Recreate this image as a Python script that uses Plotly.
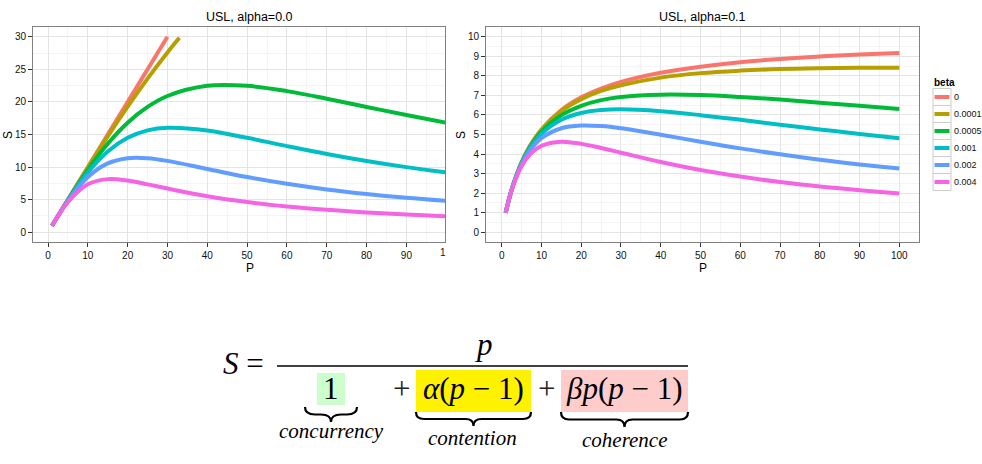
import plotly.graph_objects as go

# ---------------- data ----------------
BETA_LABELS = ["0", "0.0001", "0.0005", "0.001", "0.002", "0.004"]
COLORS = ["#F8766D", "#B79F00", "#00BA38", "#00BFC4", "#619CFF", "#F564E3"]

# alpha = 0.0 panel (values above 30 are cut off in the original)
P_L_B0 = [1, 30]
S_L_B0 = [1, 30]
P_L_B1 = [1, 5, 10, 15, 20, 25, 30, 33]
S_L_B1 = [1, 4.99, 9.91, 14.69, 19.27, 23.58, 27.60, 29.85]
P_L = [1, 5, 10, 15, 20, 25, 30, 40, 50, 60, 70, 80, 90, 100]
S_L_B5 = [1, 4.95, 9.57, 13.57, 16.81, 19.23, 20.91, 22.47, 22.47, 21.66, 20.50, 19.23, 17.98, 16.81]
S_L_B10 = [1, 4.90, 9.17, 12.40, 14.49, 15.63, 16.04, 15.63, 14.49, 13.22, 12.01, 10.93, 9.99, 9.17]
S_L_B20 = [1, 4.81, 8.47, 10.56, 11.36, 11.36, 10.95, 9.71, 8.47, 7.43, 6.57, 5.87, 5.29, 4.81]
S_L_B40 = [1, 4.63, 7.35, 8.15, 7.94, 7.35, 6.70, 5.52, 4.63, 3.96, 3.44, 3.04, 2.72, 2.46]

# alpha = 0.1 panel
P_R = [1, 2, 3, 5, 7, 10, 15, 20, 25, 30, 40, 50, 60, 70, 80, 90, 100]
S_R_B0 = [1, 1.82, 2.50, 3.57, 4.38, 5.26, 6.25, 6.90, 7.35, 7.69, 8.16, 8.47, 8.70, 8.86, 8.99, 9.09, 9.17]
S_R_B1 = [1, 1.82, 2.50, 3.57, 4.36, 5.24, 6.20, 6.81, 7.23, 7.52, 7.91, 8.14, 8.27, 8.35, 8.39, 8.41, 8.41]
S_R_B5 = [1, 1.82, 2.49, 3.55, 4.32, 5.14, 5.99, 6.47, 6.76, 6.92, 7.04, 7.02, 6.92, 6.79, 6.63, 6.47, 6.31]
S_R_B10 = [1, 1.81, 2.49, 3.52, 4.26, 5.03, 5.75, 6.10, 6.25, 6.29, 6.19, 5.99, 5.75, 5.50, 5.26, 5.03, 4.81]
S_R_B20 = [1, 1.81, 2.48, 3.47, 4.16, 4.81, 5.32, 5.46, 5.43, 5.32, 4.99, 4.63, 4.29, 3.99, 3.71, 3.47, 3.26]
S_R_B40 = [1, 1.81, 2.45, 3.38, 3.96, 4.42, 4.63, 4.52, 4.31, 4.07, 3.59, 3.18, 2.85, 2.57, 2.34, 2.15, 1.98]

LEFT_SERIES = [(P_L_B0, S_L_B0), (P_L_B1, S_L_B1), (P_L, S_L_B5),
               (P_L, S_L_B10), (P_L, S_L_B20), (P_L, S_L_B40)]
RIGHT_SERIES = [(P_R, S_R_B0), (P_R, S_R_B1), (P_R, S_R_B5),
                (P_R, S_R_B10), (P_R, S_R_B20), (P_R, S_R_B40)]

TITLES = ["USL, alpha=0.0", "USL, alpha=0.1"]
X_TICKS = [0, 10, 20, 30, 40, 50, 60, 70, 80, 90, 100]
Y_TICKS_L = [0, 5, 10, 15, 20, 25, 30]
Y_TICKS_R = list(range(0, 11))

# ---------------- layout helpers ----------------
W, H = 982, 464


def X(px):
    return px / W


def Y(py):
    return 1 - py / H


SANS = "Liberation Sans"
SERIF = "Liberation Serif"

fig = go.Figure()

for (px_, s_), col, lab in zip(LEFT_SERIES, COLORS, BETA_LABELS):
    fig.add_trace(go.Scatter(x=px_, y=s_, mode="lines", name=lab,
                             line=dict(color=col, width=4, shape="spline", smoothing=1),
                             xaxis="x", yaxis="y", showlegend=False))
for (px_, s_), col, lab in zip(RIGHT_SERIES, COLORS, BETA_LABELS):
    fig.add_trace(go.Scatter(x=px_, y=s_, mode="lines", name=lab,
                             line=dict(color=col, width=4, shape="spline", smoothing=1),
                             xaxis="x2", yaxis="y2", showlegend=False))

GRID = "#e4e4e4"
MINOR = "#f4f4f4"
BORDER = "#808080"
TICKC = "#333333"
TXT = "#111111"


def xaxis(domain, rng):
    return dict(domain=domain, range=rng, tickvals=X_TICKS, ticks="outside", ticklen=4,
                tickcolor=TICKC, tickwidth=1, tickfont=dict(size=10, color=TXT, family=SANS),
                showline=True, mirror=True, linecolor=BORDER, linewidth=1,
                showgrid=True, gridcolor=GRID, gridwidth=1.2, zeroline=False,
                minor=dict(dtick=5, tick0=0, showgrid=True, gridcolor=MINOR, gridwidth=1, ticks=""))


def yaxis(domain, rng, tv, minor_dt):
    return dict(domain=domain, range=rng, tickvals=tv, ticks="outside", ticklen=4,
                tickcolor=TICKC, tickwidth=1, tickfont=dict(size=10, color=TXT, family=SANS),
                showline=True, mirror=True, linecolor=BORDER, linewidth=1,
                showgrid=True, gridcolor=GRID, gridwidth=1.2, zeroline=False,
                minor=dict(dtick=minor_dt, tick0=0, showgrid=True, gridcolor=MINOR, gridwidth=1, ticks=""))


ydom = [Y(242), Y(27)]
fig.update_layout(
    width=W, height=H, margin=dict(l=0, r=0, t=0, b=0),
    paper_bgcolor="white", plot_bgcolor="white", showlegend=False,
    font=dict(family=SANS, color=TXT),
    xaxis=xaxis([X(33), X(445)], [-3.77, 99.7]),
    yaxis=yaxis(ydom, [-1.5, 31.5], Y_TICKS_L, 2.5),
    xaxis2=xaxis([X(486), X(919)], [-3.95, 104.95]),
    yaxis2=yaxis(ydom, [-0.5, 10.5], Y_TICKS_R, 0.5),
)
fig.update_layout(yaxis2=dict(anchor="x2"), xaxis2=dict(anchor="y2"))

ann = []
shapes = []


def text(x, y, s, size, family=SANS, xanchor="center", yanchor="middle", angle=0, color="black"):
    ann.append(dict(x=X(x), y=Y(y), xref="paper", yref="paper", text=s, showarrow=False,
                    xanchor=xanchor, yanchor=yanchor, textangle=angle,
                    font=dict(size=size, family=family, color=color)))


# titles and axis labels
text(249.5, 17, TITLES[0], 12.5)
text(702.5, 17, TITLES[1], 12.5)
text(249.5, 268, "P", 12)
text(703, 268, "P", 12)
text(8, 135, "S", 12, angle=-90)
text(461, 135, "S", 12, angle=-90)
# partially cut "100" tick label on the left panel
text(437.5, 252.5, "1", 10, xanchor="left", color=TXT)

# custom legend (ggplot style keys)
text(932, 82, "<b>beta</b>", 10, xanchor="left")
for i, (lab, col) in enumerate(zip(BETA_LABELS, COLORS)):
    yc = 97 + 17 * i
    shapes.append(dict(type="rect", xref="paper", yref="paper",
                       x0=X(933), x1=X(951), y0=Y(yc - 8.5), y1=Y(yc + 8.5),
                       line=dict(color="#cccccc", width=1), fillcolor="white"))
    shapes.append(dict(type="line", xref="paper", yref="paper",
                       x0=X(934.5), x1=X(949.5), y0=Y(yc), y1=Y(yc),
                       line=dict(color=col, width=4)))
    text(952, yc, lab, 9, xanchor="left", color=TXT)

# ---------------- formula ----------------
FS = 31
# highlight boxes
for (x0, x1, y0, y1, c) in [(317, 345, 373, 405, "#ccffcc"),
                            (416, 531, 370, 412, "#fff200"),
                            (561, 688, 370, 412, "#ffcccc")]:
    shapes.append(dict(type="rect", xref="paper", yref="paper", layer="below",
                       x0=X(x0), x1=X(x1), y0=Y(y1), y1=Y(y0),
                       line=dict(width=0), fillcolor=c))
# fraction bar
shapes.append(dict(type="line", xref="paper", yref="paper",
                   x0=X(277), x1=X(688), y0=Y(366), y1=Y(366),
                   line=dict(color="black", width=1.5)))

text(243, 363, "<i>S</i> =", FS, family=SERIF)
text(484, 344, "<i>p</i>", FS, family=SERIF)
text(331, 388, "1", FS, family=SERIF)
text(401, 388, "+", FS, family=SERIF, color="#222222")
text(473.5, 388, "<i>α</i>(<i>p</i> − 1)", FS, family=SERIF)
text(546, 388, "+", FS, family=SERIF, color="#222222")
text(624.5, 388, "<i>βp</i>(<i>p</i> − 1)", FS, family=SERIF)


def P(x, y):
    return f"{X(x):.5f},{Y(y):.5f}"


def brace(x0, x1, ytop, h, r):
    xm = (x0 + x1) / 2
    ym = ytop + h * 0.5
    yb = ytop + h
    path = (f"M {P(x0, ytop)} Q {P(x0, ym)} {P(x0 + r, ym)} L {P(xm - r, ym)} "
            f"Q {P(xm, ym)} {P(xm, yb)} Q {P(xm, ym)} {P(xm + r, ym)} "
            f"L {P(x1 - r, ym)} Q {P(x1, ym)} {P(x1, ytop)}")
    shapes.append(dict(type="path", xref="paper", yref="paper", path=path,
                       line=dict(color="black", width=2.2)))


brace(305, 357, 407, 15, 10)
brace(416, 531, 412, 14, 8)
brace(561, 688, 412, 15, 8)

text(331, 431, "<i>concurrency</i>", 21, family=SERIF)
text(472, 438, "<i>contention</i>", 21, family=SERIF)
text(625, 440, "<i>coherence</i>", 21, family=SERIF)

fig.update_layout(annotations=ann, shapes=shapes)
fig.write_html("out.html")
